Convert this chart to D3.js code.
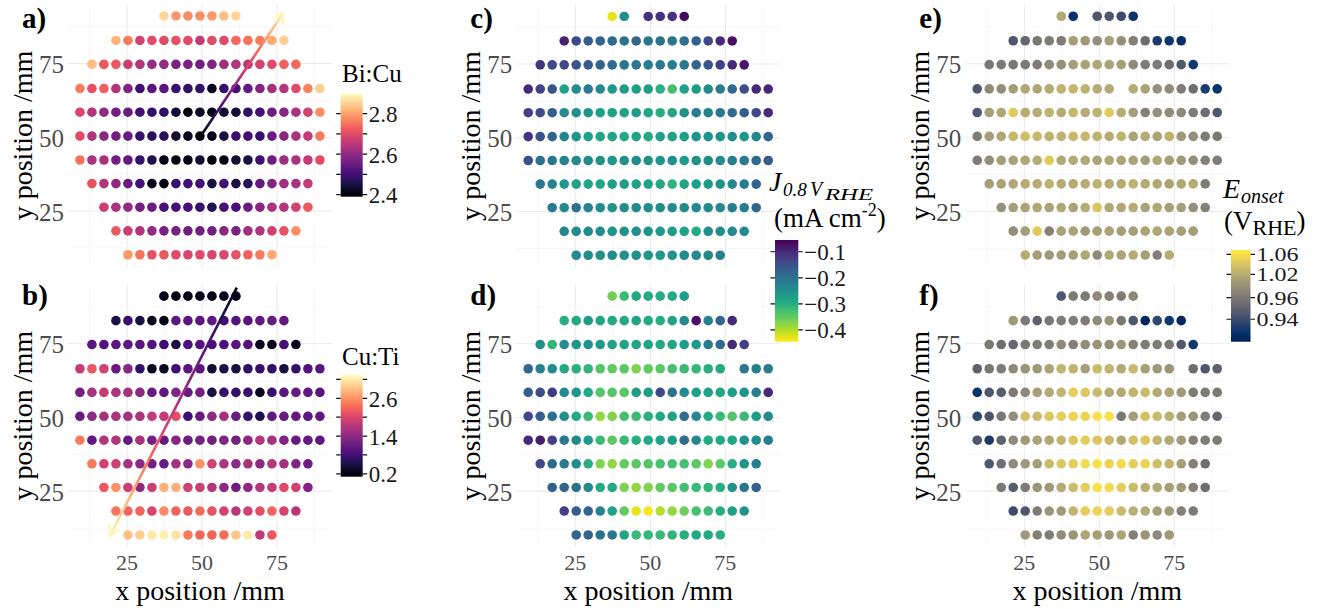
<!DOCTYPE html>
<html>
<head>
<meta charset="utf-8">
<script src="https://cdn.jsdelivr.net/npm/d3@7"></script>
<style>
  body { margin: 0; background: #fff; }
  svg { display: block; }
  text { font-family: "Liberation Serif", "Times New Roman", serif; }
</style>
</head>
<body>
<svg id="fig" width="1327" height="609"></svg>
<script>
// ---- wafer measurement grid (mm) ----
const xPositions = [9.3, 13.3, 17.3, 21.3, 25.3, 29.3, 33.3, 37.3, 41.3, 45.3, 49.3,
                    53.3, 57.3, 61.3, 65.3, 69.3, 73.3, 77.3, 81.3, 85.3, 89.3];
const yPositions = [91.1, 82.8, 74.7, 66.5, 58.5, 50.4, 42.3, 34.3, 26.3, 18.3, 10.2];
// index of the first x position used in each row (top row first)
const rowFirst = [7, 3, 1, 0, 0, 0, 0, 1, 2, 3, 4];

// ---- a) Bi:Cu ratio ----
const biCu = [
  [2.86, 2.79, 2.78, 2.78, 2.79, 2.83, 2.86],
  [2.82, 2.76, 2.68, 2.70, 2.70, 2.71, 2.70, 2.66, 2.70, 2.70, 2.74, 2.75, 2.76, 2.81, 2.85],
  [2.83, 2.72, 2.72, 2.67, 2.64, 2.61, 2.60, 2.57, 2.57, 2.56, 2.58, 2.62, 2.64, 2.65, 2.68, 2.70, 2.73, 2.74],
  [2.76, 2.71, 2.73, 2.64, 2.58, 2.50, 2.53, 2.53, 2.49, 2.48, 2.48, 2.42, 2.49, 2.51, 2.54, 2.58, 2.62, 2.64, 2.70, 2.77, 2.85],
  [2.69, 2.64, 2.60, 2.56, 2.55, 2.50, 2.49, 2.48, 2.44, 2.41, 2.43, 2.41, 2.44, 2.44, 2.48, 2.50, 2.55, 2.59, 2.63, 2.68, 2.78],
  [2.70, 2.64, 2.59, 2.56, 2.55, 2.49, 2.47, 2.47, 2.44, 2.42, 2.40, 2.41, 2.45, 2.49, 2.50, 2.49, 2.55, 2.59, 2.63, 2.66, 2.76],
  [2.75, 2.63, 2.63, 2.56, 2.54, 2.49, 2.46, 2.41, 2.40, 2.41, 2.44, 2.40, 2.41, 2.44, 2.45, 2.50, 2.55, 2.61, 2.63, 2.66, 2.70],
  [2.71, 2.64, 2.60, 2.55, 2.50, 2.41, 2.41, 2.49, 2.50, 2.50, 2.45, 2.50, 2.45, 2.47, 2.54, 2.58, 2.62, 2.63, 2.66],
  [2.67, 2.63, 2.60, 2.56, 2.55, 2.51, 2.51, 2.51, 2.49, 2.46, 2.51, 2.51, 2.55, 2.59, 2.63, 2.64, 2.68, 2.72],
  [2.72, 2.67, 2.64, 2.60, 2.57, 2.57, 2.56, 2.56, 2.56, 2.59, 2.57, 2.62, 2.64, 2.68, 2.71, 2.78],
  [2.79, 2.75, 2.71, 2.72, 2.70, 2.69, 2.70, 2.69, 2.69, 2.71, 2.73, 2.76, 2.81]
];

// ---- b) Cu:Ti ratio ----
const cuTi = [
  [0.25, 0.22, 0.25, 0.26, 0.25, 0.28, 0.25],
  [0.50, 0.75, 0.50, 0.28, 0.25, 1.05, 1.00, 1.00, 1.05, 0.80, 0.95, 1.00, 1.05, 1.10, 1.05],
  [1.00, 0.95, 1.00, 1.05, 1.00, 0.95, 0.80, 0.50, 0.90, 0.95, 0.85, 0.90, 1.00, 0.95, 0.30, 0.30, 0.85, 0.30],
  [1.85, 2.20, 1.95, 1.10, 1.35, 0.70, 0.30, 0.30, 0.80, 1.00, 1.00, 0.45, 0.55, 0.50, 0.70, 0.75, 0.70, 0.50, 0.75, 0.95, 1.00],
  [1.20, 1.60, 1.85, 1.65, 1.60, 1.40, 1.10, 1.05, 1.30, 1.10, 1.20, 0.50, 0.75, 0.70, 0.75, 0.30, 0.75, 1.00, 1.10, 1.05, 1.00],
  [1.10, 1.40, 1.60, 1.65, 1.60, 1.65, 1.80, 1.85, 2.10, 0.80, 1.10, 1.40, 1.60, 1.15, 0.75, 0.55, 1.05, 1.10, 1.10, 1.00, 1.05],
  [2.45, 1.05, 1.70, 1.70, 1.10, 1.60, 1.20, 1.10, 1.35, 1.15, 1.20, 1.20, 1.30, 1.20, 1.40, 1.70, 1.60, 1.30, 1.10, 1.10, 1.05],
  [2.45, 1.95, 1.90, 1.60, 1.40, 1.20, 1.10, 1.60, 1.40, 2.60, 1.95, 1.65, 1.40, 1.60, 1.40, 1.70, 1.60, 1.30, 1.15],
  [2.20, 2.60, 1.90, 1.40, 1.90, 2.80, 2.80, 1.95, 1.90, 1.70, 1.40, 1.15, 1.40, 1.70, 1.85, 2.05, 1.95, 1.30],
  [2.40, 2.30, 2.30, 2.00, 2.55, 2.30, 2.20, 2.35, 2.15, 1.95, 1.75, 1.95, 2.10, 2.30, 2.00, 1.75],
  [2.90, 3.00, 3.20, 3.25, 3.15, 2.45, 2.30, 2.30, 2.35, 2.95, 3.20, 1.80, 2.20]
];

// ---- c) current density at 0.8 V_RHE (mA cm-2) ----
const currentTop = [
  [-0.43, -0.245, null, -0.11, -0.11, -0.11, -0.065],
  [-0.09, -0.14, -0.17, -0.18, -0.19, -0.2, -0.18, -0.21, -0.205, -0.205, -0.2, -0.175, -0.14, -0.1, -0.07],
  [-0.115, -0.14, -0.14, -0.16, -0.17, -0.18, -0.19, -0.205, -0.21, -0.215, -0.21, -0.22, -0.21, -0.18, -0.16, -0.13, -0.1, -0.075],
  [-0.1, -0.13, -0.16, -0.28, -0.24, -0.22, -0.24, -0.265, -0.27, -0.275, -0.27, -0.3, -0.33, -0.28, -0.27, -0.24, -0.215, -0.19, -0.145, -0.1, -0.095],
  [-0.13, -0.145, -0.17, -0.24, -0.25, -0.26, -0.27, -0.28, -0.28, -0.27, -0.285, -0.3, -0.285, -0.25, -0.22, -0.23, -0.21, -0.19, -0.17, -0.14, -0.1],
  [-0.115, -0.15, -0.18, -0.23, -0.26, -0.28, -0.285, -0.28, -0.29, -0.285, -0.29, -0.275, -0.275, -0.27, -0.255, -0.25, -0.25, -0.245, -0.26, -0.235, -0.18],
  [-0.15, -0.2, -0.21, -0.23, -0.24, -0.245, -0.25, -0.26, -0.25, -0.245, -0.25, -0.26, -0.25, -0.265, -0.25, -0.245, -0.24, -0.22, -0.215, -0.19, -0.165],
  [-0.21, -0.23, -0.26, -0.28, -0.285, -0.285, -0.27, -0.27, -0.275, -0.28, -0.29, -0.31, -0.285, -0.27, -0.265, -0.25, -0.24, -0.22, -0.18],
  [-0.215, -0.24, -0.2, -0.23, -0.245, -0.25, -0.245, -0.24, -0.245, -0.245, -0.24, -0.24, -0.235, -0.24, -0.235, -0.22, -0.215, -0.18],
  [-0.235, -0.24, -0.245, -0.245, -0.26, -0.25, -0.25, -0.26, -0.265, -0.27, -0.28, -0.29, -0.25, -0.245, -0.24, -0.24],
  [-0.24, -0.245, -0.25, -0.245, -0.25, -0.25, -0.26, -0.265, -0.25, -0.245, -0.24, -0.235, -0.225]
];

// ---- d) current density at 0.8 V_RHE (mA cm-2) ----
const currentBottom = [
  [-0.36, -0.32, -0.29, -0.295, -0.295, -0.29, -0.27],
  [-0.3, -0.29, -0.27, -0.285, -0.29, -0.29, -0.285, -0.29, -0.295, -0.28, -0.24, -0.07, -0.23, -0.18, -0.1],
  [-0.25, -0.31, -0.245, -0.26, -0.255, -0.265, -0.28, -0.285, -0.285, -0.28, -0.29, -0.285, -0.27, -0.265, -0.215, -0.19, -0.1, -0.13],
  [-0.185, -0.23, -0.245, -0.29, -0.305, -0.31, -0.34, -0.35, -0.345, -0.37, -0.35, -0.345, -0.33, -0.32, -0.315, -0.3, -0.29, null, -0.21, -0.225, -0.215],
  [-0.17, -0.145, -0.12, -0.24, -0.26, -0.29, -0.34, -0.34, -0.345, -0.27, -0.27, -0.14, -0.2, -0.24, -0.28, -0.28, -0.285, -0.27, -0.26, -0.22, -0.1],
  [-0.14, -0.17, -0.2, -0.25, -0.29, -0.32, -0.38, -0.37, -0.33, -0.32, -0.3, -0.29, -0.28, -0.19, -0.235, -0.29, -0.32, -0.34, -0.32, -0.27, -0.24],
  [-0.1, -0.085, -0.13, -0.21, -0.24, -0.265, -0.32, -0.35, -0.32, -0.3, -0.29, -0.28, -0.27, -0.19, -0.24, -0.29, -0.29, -0.285, -0.255, -0.245, -0.22],
  [-0.14, -0.19, -0.215, -0.245, -0.3, -0.37, -0.38, -0.35, -0.345, -0.34, -0.33, -0.33, -0.33, -0.345, -0.37, -0.345, -0.3, -0.25, -0.22],
  [-0.17, -0.18, -0.2, -0.24, -0.29, -0.29, -0.37, -0.38, -0.37, -0.35, -0.345, -0.33, -0.32, -0.31, -0.295, -0.25, -0.21, -0.175],
  [-0.13, -0.17, -0.18, -0.23, -0.28, -0.35, -0.43, -0.44, -0.4, -0.385, -0.36, -0.33, -0.32, -0.3, -0.27, -0.255],
  [-0.18, -0.18, -0.2, -0.21, -0.285, -0.32, -0.315, -0.32, -0.31, -0.3, -0.29, -0.29, -0.3]
];

// ---- e) onset potential (V_RHE) ----
const onsetTop = [
  [1.015, 0.928, null, 0.945, 0.945, 0.94, 0.928],
  [0.945, 0.952, 0.96, 0.965, 0.965, 1.005, 1.0, 0.988, 1.005, 0.988, 0.97, 0.955, 0.932, 0.93, 0.926],
  [0.96, 0.962, 0.96, 0.962, 0.965, 0.983, 0.988, 1.005, 1.01, 1.015, 1.01, 1.005, 0.983, 0.965, 0.962, 0.955, 0.945, 0.93],
  [0.945, 0.983, 0.988, 1.005, 1.015, 1.015, 1.02, 1.025, 1.03, 1.025, 1.02, 1.02, null, 1.02, 1.01, 0.988, 0.983, 0.965, 0.955, 0.932, 0.928],
  [0.945, 1.005, 1.015, 1.045, 1.02, 1.02, 1.025, 1.02, 1.03, 1.02, 1.025, 1.045, 1.02, 1.005, 0.97, 0.988, 0.983, 0.983, 0.965, 0.955, 0.945],
  [0.965, 1.005, 1.015, 1.03, 1.035, 1.03, 1.025, 1.025, 1.03, 1.03, 1.025, 1.02, 1.025, 1.01, 1.02, 1.01, 1.025, 1.0, 0.988, 0.965, 0.962],
  [0.965, 0.988, 1.005, 1.01, 1.015, 1.02, 1.045, 1.015, 1.02, 1.015, 1.01, 1.015, 1.01, 1.01, 1.005, 1.015, 1.005, 1.0, 0.988, 0.97, 0.965],
  [1.005, 1.01, 1.015, 1.02, 1.02, 1.025, 1.02, 1.02, 1.02, 1.025, 1.02, 1.02, 1.025, 1.02, 1.015, 1.01, 1.015, 1.02, 0.965],
  [0.988, 1.005, 1.01, 1.015, 1.01, 1.015, 1.01, 1.02, 1.04, 1.015, 1.015, 1.02, 1.01, 1.015, 1.005, 1.005, 0.988, 0.97],
  [0.988, 1.005, 1.045, 0.97, 1.01, 1.01, 1.0, 1.005, 1.01, 1.005, 1.005, 1.01, 1.015, 1.01, 1.005, 1.005],
  [1.02, 1.005, 1.0, 1.005, 1.005, 1.015, 0.983, 1.015, 1.01, 1.02, 1.005, 0.97, 1.02]
];

// ---- f) onset potential (V_RHE) ----
const onsetBottom = [
  [0.945, 0.962, 0.962, 0.981, 0.97, 0.965, 0.981],
  [1.0, 0.962, 0.95, 0.96, 0.965, 0.965, 0.965, 0.981, 0.995, 0.96, 0.945, 0.922, 0.937, 0.93, 0.922],
  [0.96, 0.955, 0.952, 0.96, 0.965, 0.965, 0.981, 0.97, 0.986, 0.995, 0.986, 0.995, 0.97, 0.965, 0.965, 0.96, 0.945, 0.93],
  [0.95, 0.96, 0.965, 0.981, 0.995, 1.0, 1.012, 1.027, 1.027, 1.005, 1.032, 1.027, 1.017, 1.032, 1.005, 1.0, 0.995, null, 0.955, 0.945, 0.95],
  [0.928, 0.945, 0.948, 0.962, 0.981, 1.005, 1.017, 1.027, 1.047, 1.042, 1.032, 1.017, 1.017, 1.027, 1.032, 1.017, 1.012, 1.0, 0.965, 0.965, 0.962],
  [0.938, 0.945, 0.96, 0.986, 1.037, 1.032, 1.042, 1.047, 1.052, 1.052, 1.062, 1.062, 0.96, 1.005, 1.037, 1.032, 1.022, 1.005, 0.995, 0.965, 0.952],
  [0.945, 0.932, 0.95, 0.981, 1.0, 1.012, 1.017, 1.027, 1.042, 1.047, 1.042, 1.032, 1.017, 1.037, 1.042, 1.027, 1.017, 1.0, 0.97, 0.965, 0.965],
  [0.945, 0.955, 0.981, 1.0, 1.005, 1.032, 1.042, 1.047, 1.057, 1.062, 1.052, 1.057, 1.047, 1.052, 1.037, 1.027, 1.005, 0.97, 0.955],
  [0.96, 0.948, 0.965, 0.995, 1.0, 1.017, 1.032, 1.047, 1.062, 1.057, 1.047, 1.032, 1.022, 1.017, 1.005, 1.0, 0.97, 0.955],
  [0.94, 0.945, 0.965, 0.995, 1.0, 1.027, 1.047, 1.052, 1.047, 1.032, 1.022, 1.017, 1.005, 1.0, 0.97, 0.965],
  [1.0, 0.97, 0.965, 0.986, 0.995, 1.012, 1.005, 1.0, 1.012, 0.97, 0.995, 0.981, 1.0]
];

// gradient arrows (mm): start, end
const arrowA = [[50.0, 51.0], [77.1, 92.2]];
const arrowB = [[61.6, 94.0], [19.3, 9.8]];

// axis breaks (mm)
const axisBreaks = [25, 50, 75];
const axisMinor = [12.5, 37.5, 62.5, 87.5];

// legend breaks
const biCuBreaks = [2.4, 2.6, 2.8], biCuMinor = [2.5, 2.7];
const cuTiBreaks = [0.2, 1.4, 2.6], cuTiMinor = [0.8, 2.0, 3.2];
const currentBreaks = [-0.1, -0.2, -0.3, -0.4];
const onsetBreaks = [0.94, 0.96, 1.02, 1.06];

// ---- colour scales ----
const biCuColor = d3.scaleSequential(d3.interpolateMagma).domain([2.39, 2.90]);
const cuTiColor = d3.scaleSequential(d3.interpolateMagma).domain([0.11, 3.34]);
const currentColor = d3.scaleSequential(d3.interpolateViridis).domain([-0.055, -0.445]);
const onsetT = d3.scaleLinear()
  .domain([0.919, 0.94, 0.96, 1.02, 1.06, 1.0686])
  .range([0, 0.245, 0.48, 0.735, 0.953, 1]).clamp(true);
const onsetColor = v => d3.interpolateCividis(onsetT(v));

const svg = d3.select("#fig");
const defs = svg.append("defs");

const PW = 264, PH = 263;
const panels = [
  { tag: "a)", values: biCu, color: biCuColor, left: 68, top: 4.0, tagY: 28, arrow: arrowA },
  { tag: "b)", values: cuTi, color: cuTiColor, left: 68, top: 284.2, tagY: 305, arrow: arrowB, xAxis: true },
  { tag: "c)", values: currentTop, color: currentColor, left: 516.3, top: 4.5, tagY: 28 },
  { tag: "d)", values: currentBottom, color: currentColor, left: 516.3, top: 284.2, tagY: 305, xAxis: true },
  { tag: "e)", values: onsetTop, color: onsetColor, left: 965.3, top: 4.3, tagY: 28 },
  { tag: "f)", values: onsetBottom, color: onsetColor, left: 965.3, top: 284.2, tagY: 305, xAxis: true }
];

panels.forEach((p, pi) => {
  const x = d3.scaleLinear().domain([5.33, 93.33]).range([p.left, p.left + PW]);
  const y = d3.scaleLinear().domain([6.05, 95.15]).range([p.top + PH, p.top]);
  const g = svg.append("g");

  // grid
  const grid = g.append("g");
  [[axisMinor, "#f1f1f1", 0.6], [axisBreaks, "#e6e6e6", 0.9]].forEach(([br, col, w]) => {
    grid.selectAll(null).data(br).join("line")
      .attr("x1", d => x(d)).attr("x2", d => x(d))
      .attr("y1", p.top).attr("y2", p.top + PH)
      .attr("stroke", col).attr("stroke-width", w);
    grid.selectAll(null).data(br).join("line")
      .attr("y1", d => y(d)).attr("y2", d => y(d))
      .attr("x1", p.left).attr("x2", p.left + PW)
      .attr("stroke", col).attr("stroke-width", w);
  });

  // points
  const pts = [];
  p.values.forEach((row, ri) => row.forEach((v, j) => {
    if (v !== null) pts.push({ x: xPositions[rowFirst[ri] + j], y: yPositions[ri], v });
  }));
  g.append("g").selectAll("circle").data(pts).join("circle")
    .attr("cx", d => x(d.x)).attr("cy", d => y(d.y)).attr("r", 4.8)
    .attr("fill", d => p.color(d.v));

  // arrow with magma gradient
  if (p.arrow) {
    const [s, e] = p.arrow;
    const x1 = x(s[0]), y1 = y(s[1]), x2 = x(e[0]), y2 = y(e[1]);
    const gid = "arrowGrad" + pi;
    const lg = defs.append("linearGradient").attr("id", gid)
      .attr("gradientUnits", "userSpaceOnUse")
      .attr("x1", x1).attr("y1", y1).attr("x2", x2).attr("y2", y2);
    d3.range(0, 1.0001, 0.1).forEach(t => {
      lg.append("stop").attr("offset", t).attr("stop-color", d3.interpolateMagma(0.03 + 0.96 * t));
    });
    g.append("line").attr("x1", x1).attr("y1", y1).attr("x2", x2).attr("y2", y2)
      .attr("stroke", `url(#${gid})`).attr("stroke-width", 2.6);
    const ang = Math.atan2(y2 - y1, x2 - x1), L = 11, spread = Math.PI / 6;
    const head = [ang + Math.PI - spread, ang + Math.PI + spread]
      .map(a => [x2 + L * Math.cos(a), y2 + L * Math.sin(a)]);
    g.append("path")
      .attr("d", `M${head[0][0]},${head[0][1]}L${x2},${y2}L${head[1][0]},${head[1][1]}`)
      .attr("fill", "none").attr("stroke", d3.interpolateMagma(0.99))
      .attr("stroke-width", 2.6).attr("stroke-linecap", "round").attr("stroke-linejoin", "round");
  }

  // y axis labels
  g.append("g").selectAll("text").data(axisBreaks).join("text")
    .attr("x", p.left - 4).attr("y", d => y(d) + 1)
    .attr("text-anchor", "end").attr("dominant-baseline", "central")
    .attr("font-size", 25).attr("fill", "#4d4d4d").text(d => d);
  g.append("text")
    .attr("transform", `translate(${p.left - 46},${p.top + PH / 2}) rotate(-90)`)
    .attr("text-anchor", "middle").attr("dominant-baseline", "central")
    .attr("font-size", 28).attr("fill", "#000").text("y position /mm");

  // x axis labels (bottom row only)
  if (p.xAxis) {
    g.append("g").selectAll("text").data(axisBreaks).join("text")
      .attr("x", d => x(d)).attr("y", p.top + PH + 23)
      .attr("text-anchor", "middle")
      .attr("font-size", 22).attr("fill", "#4d4d4d").text(d => d);
    g.append("text")
      .attr("x", p.left + PW / 2).attr("y", p.top + PH + 53)
      .attr("text-anchor", "middle").attr("font-size", 28).attr("fill", "#000")
      .text("x position /mm");
  }

  // panel tag
  g.append("text").attr("x", p.left - 46).attr("y", p.tagY)
    .attr("font-size", 29).attr("font-weight", "bold").attr("fill", "#000").text(p.tag);
});

// ---- colour bars ----
function colourBar(opt) {
  const h = opt.bottom - opt.top;
  const gid = "bar" + opt.id;
  const lg = defs.append("linearGradient").attr("id", gid)
    .attr("x1", 0).attr("y1", 0).attr("x2", 0).attr("y2", 1);
  const [lo, hi] = opt.extent;
  const stops = d3.range(0, 65).map(i => {
    const v = lo + (hi - lo) * i / 64;
    return { off: (opt.pos(v) - opt.top) / h, col: opt.color(v) };
  }).sort((a, b) => a.off - b.off);
  stops.forEach(s => lg.append("stop").attr("offset", s.off).attr("stop-color", s.col));
  const g = svg.append("g");
  g.append("rect").attr("x", opt.x).attr("y", opt.top).attr("width", opt.w).attr("height", h)
    .attr("fill", `url(#${gid})`);
  const tickVals = opt.breaks.concat(opt.minor || []);
  g.selectAll("path.tk").data(tickVals).join("path").attr("class", "tk")
    .attr("d", d => {
      const yy = opt.pos(d);
      return `M${opt.x - 4.5},${yy}H${opt.x}M${opt.x + opt.w},${yy}H${opt.x + opt.w + 4.5}`;
    })
    .attr("stroke", "#111").attr("stroke-width", 1.2);
  const labels = g.selectAll("text.lb").data(opt.breaks).join("text").attr("class", "lb")
    .attr("x", opt.x + opt.w + 6).attr("y", d => opt.pos(d) + 1)
    .attr("dominant-baseline", "central").attr("font-size", opt.labelSize || 23).attr("fill", "#1a1a1a")
    .text(opt.fmt);
  if (opt.labelWidth) labels.attr("textLength", opt.labelWidth).attr("lengthAdjust", "spacingAndGlyphs");
  return g;
}

const biCuBar = colourBar({
  id: "a", x: 340.7, w: 22, top: 93.3, bottom: 196.7, extent: biCuColor.domain(),
  pos: d3.scaleLinear().domain([2.39, 2.90]).range([196.7, 93.3]),
  color: biCuColor, breaks: biCuBreaks, minor: biCuMinor, fmt: d3.format(".1f")
});
biCuBar.append("text").attr("x", 342).attr("y", 82).attr("font-size", 25).text("Bi:Cu");

const cuTiBar = colourBar({
  id: "b", x: 340.7, w: 22, top: 375, bottom: 476.7, extent: cuTiColor.domain(),
  pos: d3.scaleLinear().domain([0.11, 3.34]).range([476.7, 375]),
  color: cuTiColor, breaks: cuTiBreaks, minor: cuTiMinor, fmt: d3.format(".1f")
});
cuTiBar.append("text").attr("x", 342).attr("y", 365).attr("font-size", 25).text("Cu:Ti");

const currentBar = colourBar({
  id: "c", x: 775, w: 23.3, top: 240, bottom: 341.7, extent: [-0.445, -0.055],
  pos: d3.scaleLinear().domain([-0.445, -0.055]).range([341.7, 240]),
  color: currentColor, breaks: currentBreaks, fmt: d3.format(".1f")
});
currentBar.append("text").attr("x", 769).attr("y", 191)
  .attr("font-size", 28).attr("font-style", "italic").text("J");
currentBar.append("text").attr("x", 783).attr("y", 196)
  .attr("font-size", 19).attr("font-style", "italic").text("0.8");
currentBar.append("text").attr("x", 810).attr("y", 196)
  .attr("font-size", 20).attr("font-style", "italic").text("V");
currentBar.append("text").attr("x", 825).attr("y", 200)
  .attr("font-size", 16).attr("font-style", "italic")
  .attr("textLength", 48).attr("lengthAdjust", "spacingAndGlyphs").text("RHE");
const unitJ = currentBar.append("text").attr("x", 774).attr("y", 227).attr("font-size", 27);
unitJ.append("tspan").text("(mA cm");
unitJ.append("tspan").attr("font-size", 18).attr("dy", -11).text("-2");
unitJ.append("tspan").attr("dy", 11).text(")");

const onsetBar = colourBar({
  id: "e", x: 1231, w: 19.5, top: 250, bottom: 341.7, extent: [0.919, 1.0686],
  pos: d3.scaleLinear().domain(onsetT.domain()).range(onsetT.range().map(t => 341.7 - t * 91.7)),
  color: onsetColor, breaks: onsetBreaks, fmt: d3.format(".2f"),
  labelSize: 18, labelWidth: 42
});
onsetBar.append("text").attr("x", 1223).attr("y", 198)
  .attr("font-size", 28).attr("font-style", "italic").text("E");
onsetBar.append("text").attr("x", 1241).attr("y", 203)
  .attr("font-size", 20).attr("font-style", "italic").text("onset");
const unitE = onsetBar.append("text").attr("x", 1224).attr("y", 230).attr("font-size", 27);
unitE.append("tspan").text("(V");
unitE.append("tspan").attr("font-size", 22).attr("dy", 5).text("RHE");
unitE.append("tspan").attr("dy", -5).text(")");
</script>
</body>
</html>
